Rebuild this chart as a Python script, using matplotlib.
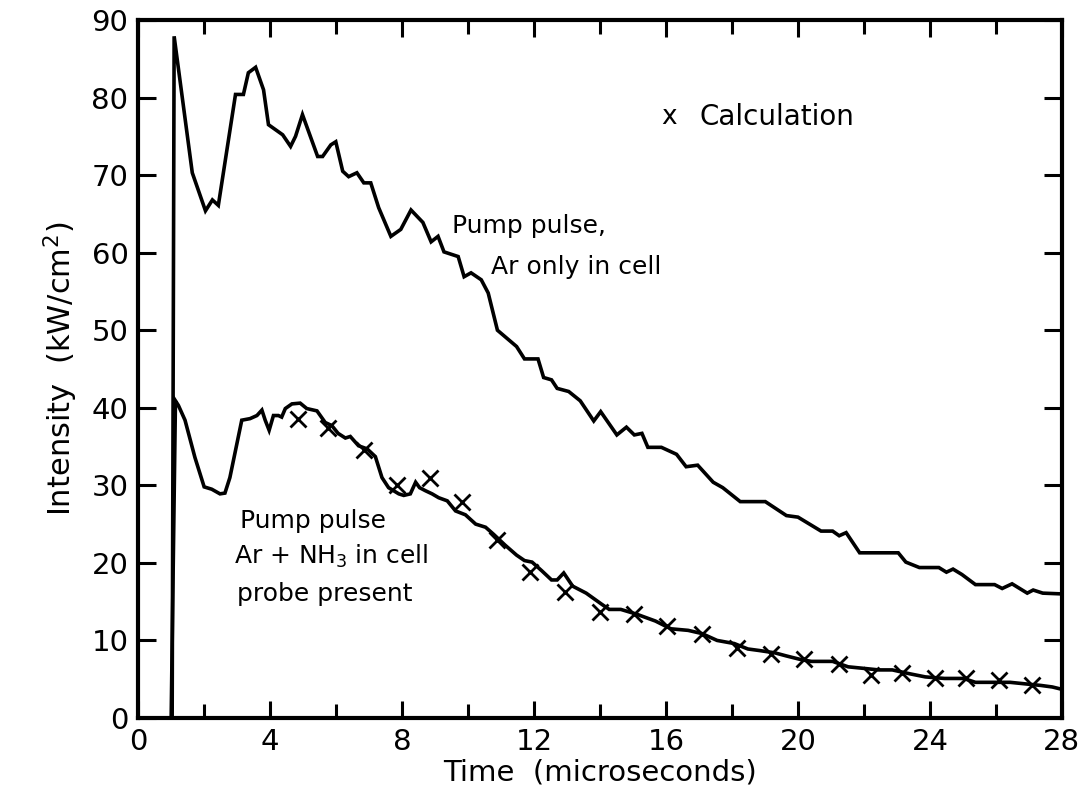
import matplotlib
matplotlib.use("Agg")
import matplotlib.pyplot as plt
from matplotlib.ticker import MultipleLocator

# Upper curve: Pump pulse, Ar only in cell
t_ar = [1.03, 1.09, 1.64, 2.04, 2.25, 2.43, 2.95, 3.19, 3.34, 3.56, 3.80, 3.95, 4.38, 4.62,
        4.77, 4.98, 5.44, 5.59, 5.84, 5.99, 6.20, 6.38, 6.63, 6.84, 7.05, 7.29, 7.66, 7.96,
        8.27, 8.63, 8.88, 9.09, 9.27, 9.70, 9.88, 10.09, 10.40, 10.61, 10.89, 11.47, 11.71,
        12.12, 12.29, 12.53, 12.70, 13.05, 13.40, 13.81, 14.02, 14.51, 14.80, 15.04, 15.27,
        15.45, 15.86, 16.32, 16.61, 16.96, 17.43, 17.72, 18.25, 19.01, 19.65, 20.00, 20.70,
        21.05, 21.25, 21.46, 21.87, 23.04, 23.27, 23.68, 24.27, 24.50, 24.70, 24.97, 25.38,
        25.96, 26.19, 26.49, 26.95, 27.13, 27.42, 28.0]
i_ar = [0.0, 87.9, 70.3, 65.4, 66.8, 66.1, 80.4, 80.4, 83.2, 83.9, 81.0, 76.5, 75.2, 73.7,
        75.0, 77.8, 72.4, 72.4, 73.9, 74.3, 70.5, 69.8, 70.3, 69.0, 69.0, 65.8, 62.1, 63.0,
        65.5, 63.9, 61.4, 62.1, 60.1, 59.5, 56.9, 57.4, 56.5, 54.8, 50.0, 47.9, 46.3,
        46.3, 43.9, 43.6, 42.5, 42.1, 40.9, 38.3, 39.5, 36.5, 37.5, 36.5, 36.7,
        34.9, 34.9, 34.0, 32.4, 32.6, 30.4, 29.7, 27.9, 27.9, 26.1, 25.9, 24.1,
        24.1, 23.5, 23.9, 21.3, 21.3, 20.1, 19.4, 19.4, 18.8, 19.2, 18.5, 17.2,
        17.2, 16.7, 17.3, 16.1, 16.5, 16.1, 16.0]

# Lower curve: Pump pulse, Ar + NH3 in cell, probe present
t_nh = [1.00, 1.13, 1.22, 1.42, 1.72, 2.00, 2.23, 2.48, 2.63, 2.78, 3.14, 3.39, 3.60, 3.75,
        3.85, 3.97, 4.10, 4.25, 4.35, 4.46, 4.66, 4.91, 5.11, 5.42, 5.67, 5.87, 6.06, 6.28,
        6.43, 6.68, 6.94, 7.19, 7.39, 7.59, 7.90, 8.05, 8.25, 8.41, 8.53, 8.71, 8.91, 9.11,
        9.37, 9.62, 9.92, 10.23, 10.53, 10.77, 11.12, 11.47, 11.71, 11.94, 12.23, 12.53,
        12.70, 12.90, 13.17, 13.58, 14.04, 14.28, 14.63, 15.10, 15.68, 16.15, 16.67, 17.08,
        17.55, 18.07, 18.48, 18.83, 19.30, 19.65, 20.12, 20.41, 21.05, 21.52, 21.99, 22.45,
        22.86, 23.39, 23.86, 24.44, 25.02, 25.38, 25.96, 26.43, 26.89, 27.36, 27.71, 28.0]
i_nh = [0.0, 40.9, 40.3, 38.4, 33.6, 29.8, 29.5, 28.9, 29.0, 31.0, 38.4, 38.6, 39.0, 39.7,
        38.4, 37.1, 39.0, 39.0, 38.8, 39.9, 40.5, 40.6, 39.9, 39.6, 38.1, 37.7, 36.7, 36.1,
        36.3, 35.1, 34.7, 33.7, 31.0, 29.7, 28.9, 28.7, 28.9, 30.4, 29.7, 29.3, 28.9, 28.4,
        28.0, 26.7, 26.2, 25.0, 24.6, 23.7, 22.3, 21.0, 20.3, 20.1, 19.0, 17.8,
        17.8, 18.7, 17.0, 16.1, 14.7, 14.0, 14.0, 13.4, 12.5, 11.5, 11.3, 10.9,
        10.0, 9.6, 8.9, 8.7, 8.4, 8.0, 7.5, 7.3, 7.3, 6.6, 6.4, 6.2,
        6.2, 5.7, 5.3, 5.1, 5.1, 4.6, 4.6, 4.6, 4.4, 4.2, 4.0, 3.7]

# Calculation points
t_calc = [4.83, 5.75, 6.84, 7.85, 8.86, 9.82, 10.87, 11.88, 12.93, 13.99, 15.04, 16.03,
          17.08, 18.15, 19.18, 20.18, 21.23, 22.2, 23.16, 24.15, 25.08, 26.08, 27.09]
i_calc = [38.6, 37.4, 34.6, 30.0, 31.0, 27.9, 23.0, 18.8, 16.3, 13.7, 13.4, 11.8,
          10.8, 9.0, 8.3, 7.6, 6.9, 5.5, 5.8, 5.1, 5.1, 4.9, 4.2]

x_ticks = [0, 4, 8, 12, 16, 20, 24, 28]
y_ticks = [0, 10, 20, 30, 40, 50, 60, 70, 80, 90]

plt.rcParams['font.family'] = ['DejaVu Sans']

fig = plt.figure(figsize=(10.88, 8.0), dpi=100)
ax = fig.add_axes([0.127, 0.1025, 0.849, 0.8725])

ax.plot(t_ar, i_ar, color='black', lw=2.6, solid_joinstyle='miter')
ax.plot(t_nh, i_nh, color='black', lw=2.6, solid_joinstyle='miter')
ax.plot(t_calc, i_calc, linestyle='none', marker='x', color='black', ms=11, mew=2.0)

ax.set_xlim(0, 28)
ax.set_ylim(0, 90)
ax.set_xticks(x_ticks)
ax.set_yticks(y_ticks)
ax.xaxis.set_minor_locator(MultipleLocator(2))
ax.tick_params(axis='both', which='both', direction='in', top=True, right=True,
               width=2.2, labelsize=21, pad=7)
ax.tick_params(axis='x', which='major', length=12)
ax.tick_params(axis='x', which='minor', length=10)
ax.tick_params(axis='y', which='major', length=13)
for s in ax.spines.values():
    s.set_linewidth(3)

ax.set_xlabel('Time  (microseconds)', fontsize=21, labelpad=2)
ax.set_ylabel('Intensity  (kW/cm$^2$)', fontsize=22, labelpad=8)

ax.text(15.85, 77.5, 'x', fontsize=19, ha='left', va='center')
ax.text(17.0, 77.5, 'Calculation', fontsize=20, ha='left', va='center')
ax.text(9.5, 63.5, 'Pump pulse,', fontsize=18, ha='left', va='center')
ax.text(10.7, 58.2, 'Ar only in cell', fontsize=18, ha='left', va='center')
ax.text(3.1, 25.4, 'Pump pulse', fontsize=18, ha='left', va='center')
ax.text(2.9, 20.8, 'Ar + NH$_3$ in cell', fontsize=18, ha='left', va='center')
ax.text(3.0, 16.0, 'probe present', fontsize=18, ha='left', va='center')

fig.savefig('out.png', dpi=100)
